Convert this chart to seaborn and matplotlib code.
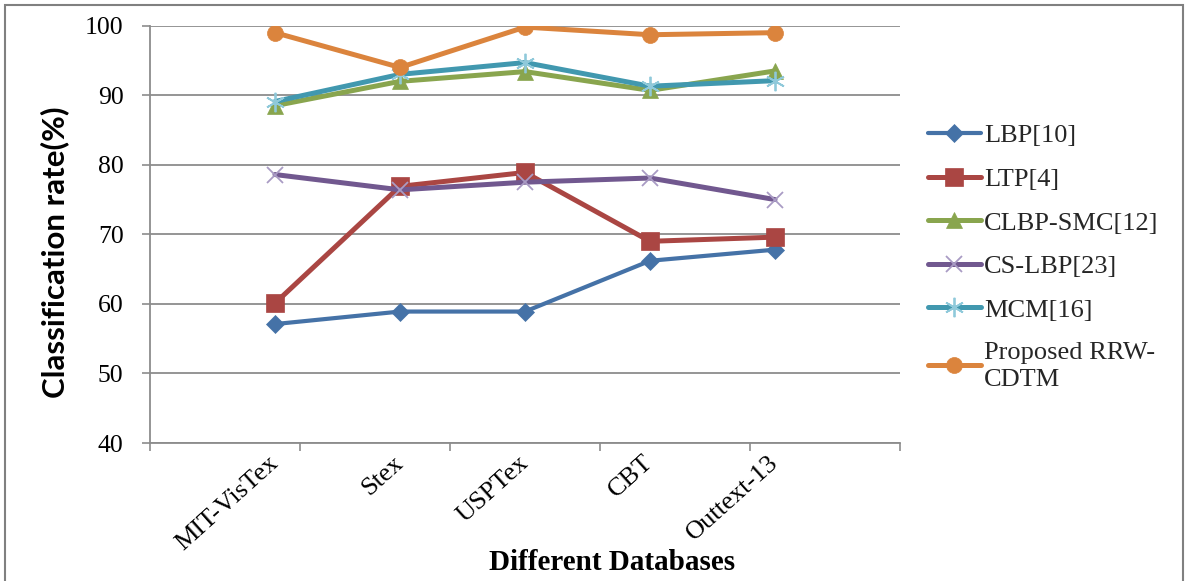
import matplotlib
matplotlib.use("Agg")
import matplotlib.pyplot as plt
from matplotlib.patches import Rectangle
import numpy as np
import pandas as pd
import seaborn as sns

# Data
databases = ["MIT-VisTex", "Stex", "USPTex", "CBT", "Outtext-13"]
lbp = [57.1, 58.9, 58.9, 66.2, 67.8]
ltp = [60.1, 76.9, 78.9, 69.0, 69.6]
clbp_smc = [88.5, 92.0, 93.4, 90.7, 93.5]
cs_lbp = [78.6, 76.4, 77.5, 78.1, 75.0]
mcm = [89.1, 93.0, 94.7, 91.3, 92.1]
proposed = [99.0, 94.0, 99.8, 98.7, 99.0]

series_names = ["LBP[10]", "LTP[4]", "CLBP-SMC[12]", "CS-LBP[23]", "MCM[16]",
                "Proposed RRW-\nCDTM"]
series_values = [lbp, ltp, clbp_smc, cs_lbp, mcm, proposed]
y_ticks = [40, 50, 60, 70, 80, 90, 100]

# styling per series (Excel-like)
styles = [
    dict(color="#4572A7", marker="D", markersize=9, lw=3.0, mfc="#4572A7", mec="#4572A7"),
    dict(color="#AA4643", marker="s", markersize=12.5, lw=3.6, mfc="#AA4643", mec="#AA4643"),
    dict(color="#89A54E", marker="^", markersize=12, lw=3.6, mfc="#89A54E", mec="#89A54E"),
    dict(color="#71588F", marker="x", markersize=12, lw=3.6, mfc="#A99BC4", mec="#A99BC4"),
    dict(color="#4198AF", marker=(6, 2, 0), markersize=14, lw=3.6, mfc="#8FC9DA", mec="#8FC9DA"),
    dict(color="#DB843D", marker="o", markersize=11.5, lw=3.6, mfc="#DB843D", mec="#DB843D"),
]

sns.set_theme(style="white")
plt.rcParams["font.family"] = ["Liberation Serif", "DejaVu Serif"]

fig = plt.figure(figsize=(11.88, 5.81), dpi=100)
ax = fig.add_axes([150 / 1188, 1 - 443 / 581, 750 / 1188, (443 - 25.7) / 581])

for name, vals, st in zip(series_names, series_values, styles):
    df = pd.DataFrame({"db": databases, "rate": vals})
    thin = st["marker"] in ("x", (6, 2, 0))
    sns.lineplot(data=df, x="db", y="rate", ax=ax, label=name,
                 color=st["color"], marker=st["marker"], markersize=st["markersize"],
                 linewidth=st["lw"], markerfacecolor=st["mfc"],
                 markeredgecolor=st["mec"], markeredgewidth=1.3 if thin else 0.5,
                 sort=False)

grid_c = "#8C8C8C"
ax.set_xlim(-1, 5)
ax.set_ylim(40, 100)
ax.set_yticks(y_ticks)
ax.set_yticklabels([str(t) for t in y_ticks], fontsize=18.5)
ax.yaxis.grid(True, color=grid_c, linewidth=1.3)
ax.set_axisbelow(True)
ax.tick_params(axis="y", which="major", left=True, length=6, width=1.2,
               color=grid_c, pad=13, labelcolor="black")

ax.set_xticks(range(len(databases)))
ax.set_xticklabels(databases, rotation=42, ha="right", va="center",
                   rotation_mode="anchor", fontsize=19, color="black")
ax.set_xticks(np.linspace(-1, 5, 6), minor=True)
ax.tick_params(axis="x", which="major", bottom=False, length=0, pad=12)
ax.tick_params(axis="x", which="minor", bottom=True, length=6, width=1.2,
               color=grid_c, direction="out")

for side in ["top", "right"]:
    ax.spines[side].set_visible(False)
for side in ["left", "bottom"]:
    ax.spines[side].set_color(grid_c)
    ax.spines[side].set_linewidth(1.3)

ax.set_xlabel("")
ax.set_ylabel("Classification rate(%)", family=["Lato", "DejaVu Sans"],
              fontweight="bold", fontsize=22.5, color="black")
ax.yaxis.set_label_coords((69 - 150) / 750, (443 - 252) / 417.3)

fig.text(612 / 1188, 1 - 563 / 581, "Different Databases", ha="center", va="center",
         fontsize=21, fontweight="bold", color="black")

leg = ax.legend(loc="upper left", bbox_to_anchor=(928 / 1188, 1 - 124 / 581),
                bbox_transform=fig.transFigure, frameon=False, fontsize=19,
                handlelength=2.0, handletextpad=0.12, labelspacing=0.76,
                borderaxespad=0, borderpad=0)
for t in leg.get_texts():
    t.set_linespacing(1.3)

# outer frame (left, top, right visible)
fig.patches.append(Rectangle((5 / 1188, -0.02), 1178 / 1188, 1.02 - 5 / 581,
                             transform=fig.transFigure, fill=False,
                             edgecolor="#808080", linewidth=1.5))

fig.savefig("out.png", dpi=100)
